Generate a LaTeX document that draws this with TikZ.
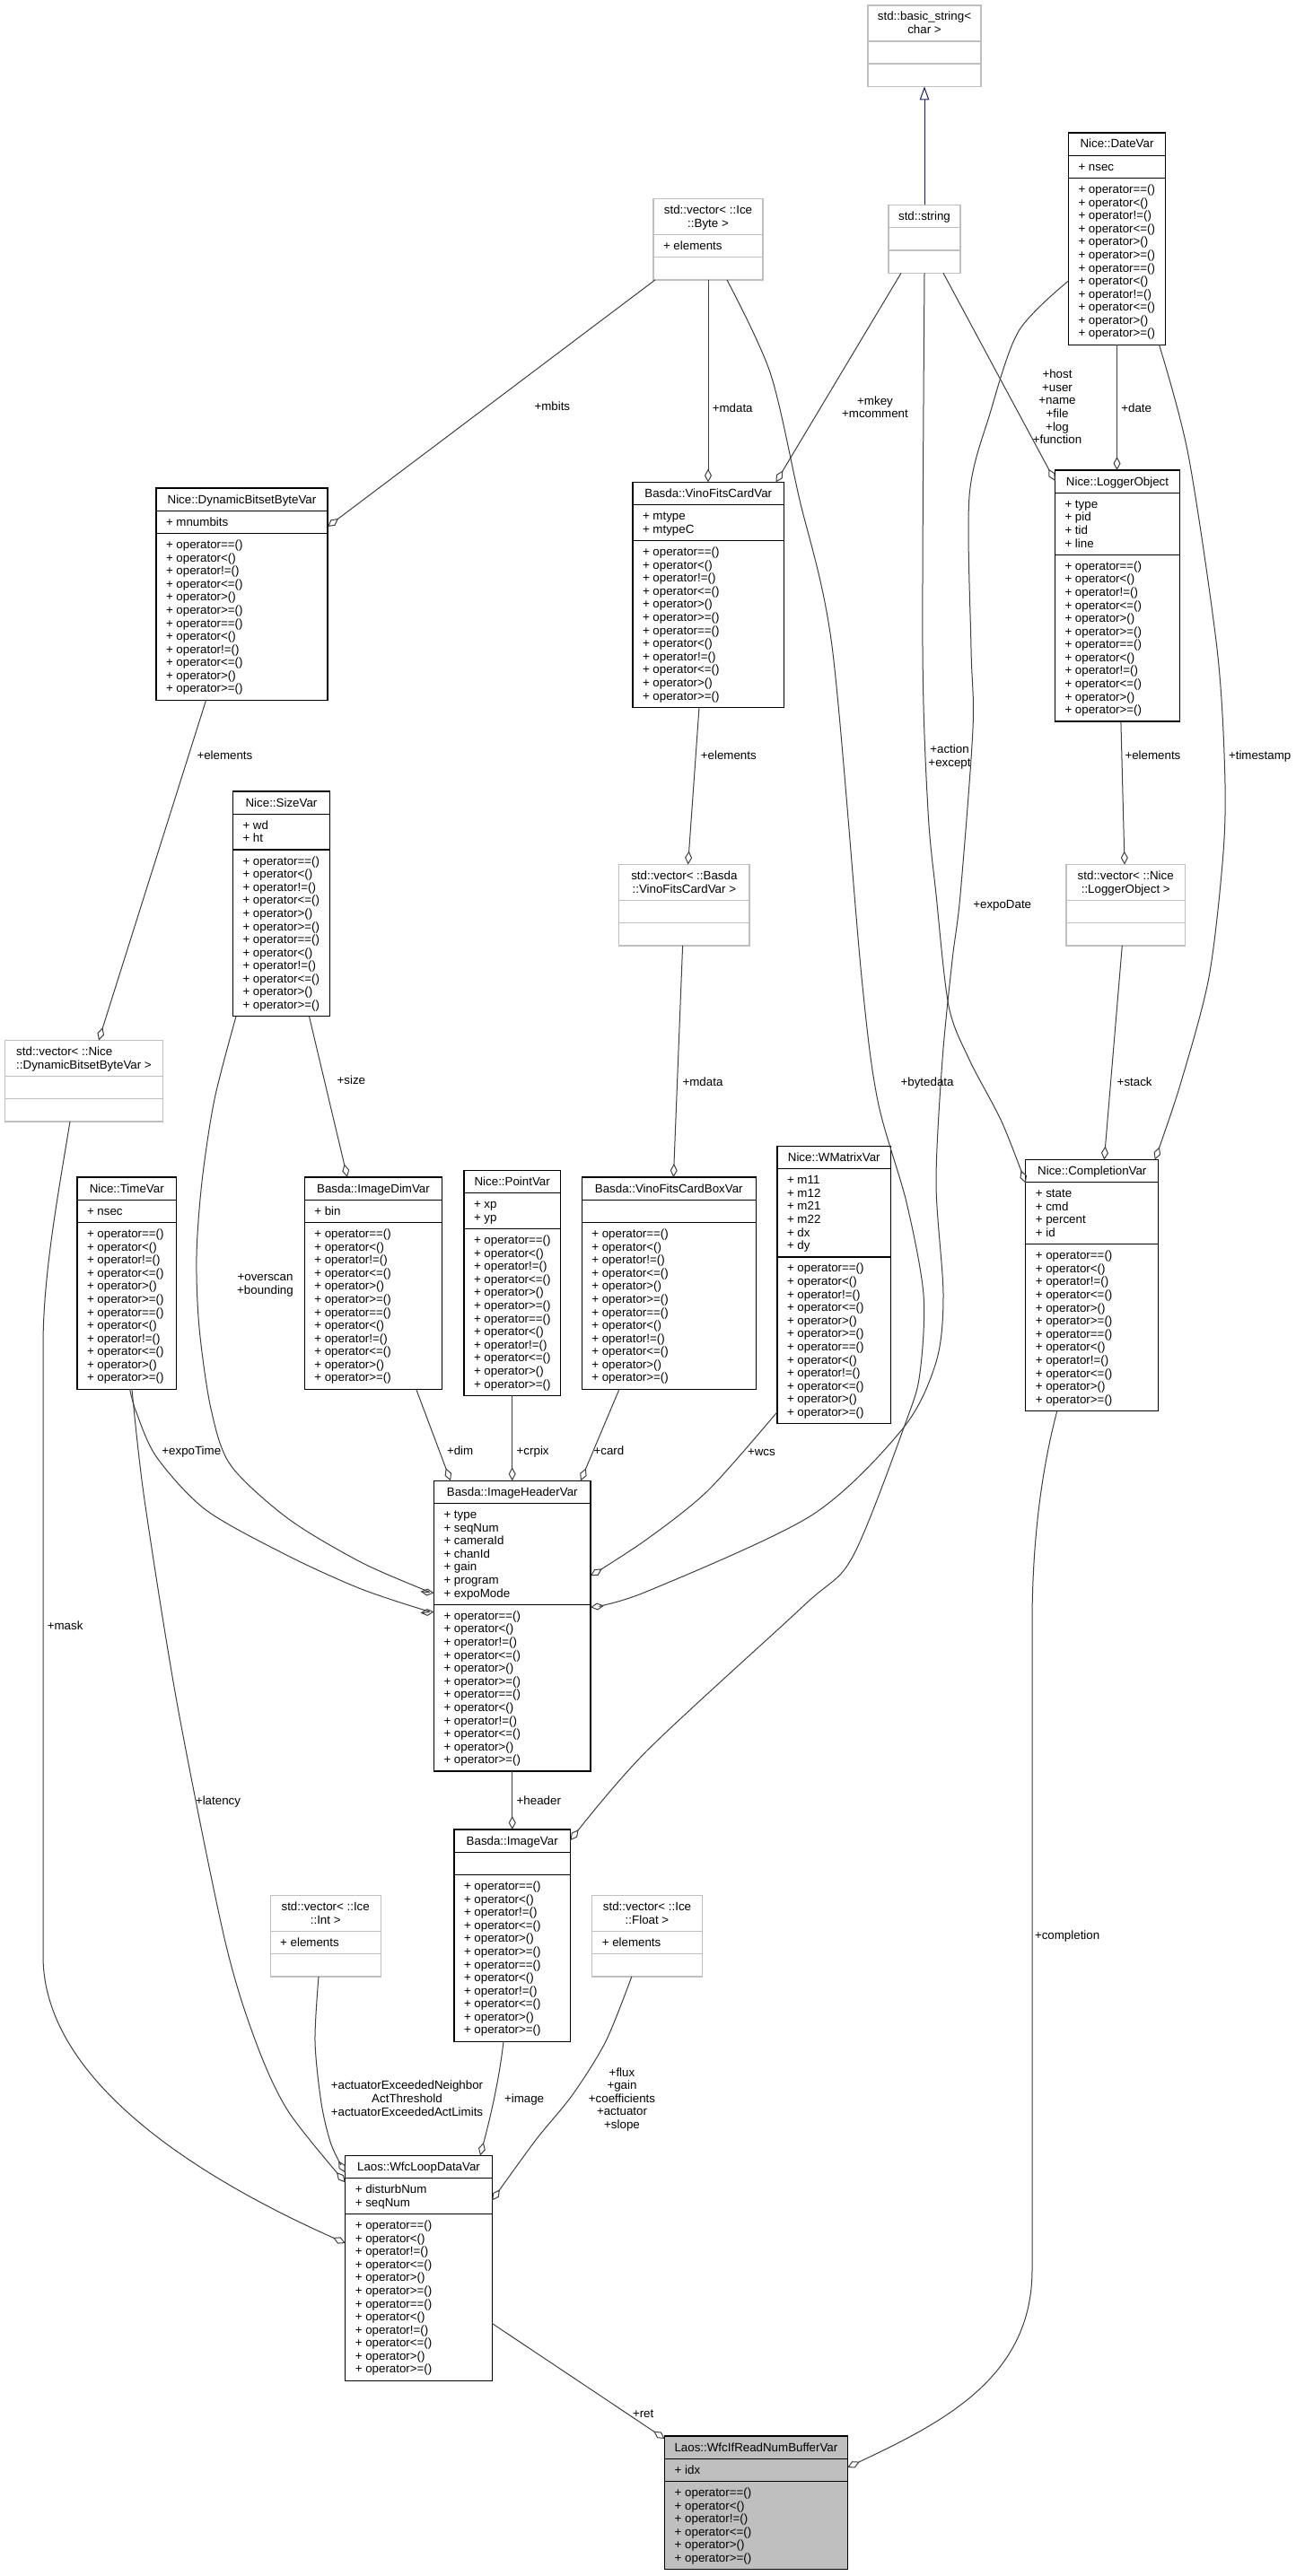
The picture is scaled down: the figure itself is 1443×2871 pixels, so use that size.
\documentclass[tikz,border=0pt]{standalone}
\usepackage{fontspec}
\setmainfont{Liberation Sans}
\usetikzlibrary{arrows.meta}
\definecolor{edgegray}{HTML}{404040}
\definecolor{boxgray}{HTML}{BFBFBF}
\definecolor{navyblue}{HTML}{191970}

\def\opsXII{+ operator==(),+ operator<(),+ operator!=(),+ operator<=(),+ operator>(),+ operator>=(),+ operator==(),+ operator<(),+ operator!=(),+ operator<=(),+ operator>(),+ operator>=()}
\def\opsVI{+ operator==(),+ operator<(),+ operator!=(),+ operator<=(),+ operator>(),+ operator>=()}

\protected\def\leftas#1#2{\setbox0=\hbox{#2}\makebox[\wd0][l]{#1}}
\protected\def\usc{\textunderscore}

\newcommand\countitems[2]{\gdef#2{0}\edef\tmplist{#1}\ifx\tmplist\empty\else\foreach \itm [count=\cnt] in \tmplist {\xdef#2{\cnt}}\fi}

\newcommand\umlclass[8]{%
  \countitems{#6}\nH\countitems{#7}\nA\countitems{#8}\nO
  \pgfmathsetmacro\hH{10.7+max(\nH,1)*14.58}%
  \pgfmathsetmacro\hA{10.7+max(\nA,1)*14.58}%
  \pgfmathsetmacro\hO{10.7+max(\nO,1)*14.58}%
  \pgfmathsetmacro\hT{\hH+\hA+\hO}%
  \pgfmathsetmacro\hB{\hH+\hA}%
  \node[#1, minimum width=#5pt, minimum height=\hT pt, anchor=north west] (#2) at (#3,#4) {};
  \draw[#1 sep] ([yshift=-\hH pt]#2.north west) -- ([yshift=-\hH pt]#2.north east);
  \draw[#1 sep] ([yshift=-\hB pt]#2.north west) -- ([yshift=-\hB pt]#2.north east);
  \edef\tmplist{#6}\ifx\tmplist\empty\else
  \foreach \itm [count=\cnt from 0] in \tmplist {\pgfmathsetmacro\yy{17+\cnt*14.58}\node[txt, anchor=base] at ([yshift=-\yy pt]#2.north) {\itm};}\fi
  \edef\tmplist{#7}\ifx\tmplist\empty\else
  \foreach \itm [count=\cnt from 0] in \tmplist {\pgfmathsetmacro\yy{\hH+17+\cnt*14.58}\node[txt, anchor=base west] at ([xshift=11pt,yshift=-\yy pt]#2.north west) {\itm};}\fi
  \edef\tmplist{#8}\ifx\tmplist\empty\else
  \foreach \itm [count=\cnt from 0] in \tmplist {\pgfmathsetmacro\yy{\hB+17+\cnt*14.58}\node[txt, anchor=base west] at ([xshift=11pt,yshift=-\yy pt]#2.north west) {\itm};}\fi
}

\newcommand\stacklabel[4]{%
  \foreach \itm [count=\cnt from 0] in {#4} {\pgfmathsetmacro\yy{#3+\cnt*14.58}\node[txt, anchor=base] (#1\cnt) at (#2,\yy) {\itm};}}

\begin{document}
\begin{tikzpicture}[x=1pt,y=-1pt,
  txt/.style={inner sep=0pt, outer sep=0pt, font=\fontsize{13.33}{14.58}\selectfont, text=black},
  cbox/.style={rectangle, draw=black, line width=1.3pt, inner sep=0pt, outer sep=0pt},
  cbox sep/.style={draw=black, line width=1.3pt},
  xbox/.style={rectangle, draw=boxgray, line width=1.3pt, inner sep=0pt, outer sep=0pt},
  xbox sep/.style={draw=boxgray, line width=1.3pt},
  hlbox/.style={rectangle, draw=black, fill=boxgray, line width=1.3pt, inner sep=0pt, outer sep=0pt},
  hlbox sep/.style={draw=black, line width=1.3pt},
  agg/.style={draw=edgegray, line width=1pt, -{Diamond[open, length=15pt, width=8pt]}},
  inherit/.style={draw=navyblue, line width=1pt, -{Triangle[open, length=15pt, width=10.5pt]}},
  lbl/.style={txt}
]
\path[use as bounding box, fill=white] (0,0) rectangle (1443,2871);

% ---------------- classes ----------------
\umlclass{xbox}{basicstr}{967}{6}{126}{std::basic\usc string<,char >}{}{}
\umlclass{xbox}{stdstr}{990}{228.5}{80}{std::string}{}{}
\umlclass{xbox}{vecbyte}{728}{221.5}{122}{std::vector< ::Ice,::Byte >}{+ elements}{}
\umlclass{cbox}{datevar}{1190.5}{148}{108}{Nice::DateVar}{+ nsec}{\opsXII}
\umlclass{cbox}{dbbv}{174}{544}{191}{Nice::DynamicBitsetByteVar}{+ mnumbits}{\opsXII}
\umlclass{cbox}{vfcv}{705}{537.5}{168.5}{Basda::VinoFitsCardVar}{+ mtype,+ mtypeC}{\opsXII}
\umlclass{cbox}{logger}{1175.5}{524}{139}{Nice::LoggerObject}{+ type,+ pid,+ tid,+ line}{\opsXII}
\umlclass{xbox}{vecdbbv}{5.5}{1159.5}{176}{\leftas{std::vector< ::Nice}{::DynamicBitsetByteVar >},::DynamicBitsetByteVar >}{}{}
\umlclass{cbox}{sizevar}{259.5}{882}{108}{Nice::SizeVar}{+ wd,+ ht}{\opsXII}
\umlclass{xbox}{vecvfcv}{689.6}{963.5}{145.5}{std::vector< ::Basda,::VinoFitsCardVar >}{}{}
\umlclass{xbox}{veclog}{1188}{963.5}{132.5}{std::vector< ::Nice,::LoggerObject >}{}{}
\umlclass{cbox}{timevar}{86}{1312}{110.5}{Nice::TimeVar}{+ nsec}{\opsXII}
\umlclass{cbox}{imgdim}{339.3}{1312}{153.4}{Basda::ImageDimVar}{+ bin}{\opsXII}
\umlclass{cbox}{pointvar}{517}{1304.5}{107.4}{Nice::PointVar}{+ xp,+ yp}{\opsXII}
\umlclass{cbox}{vfcbv}{648.3}{1312}{193.9}{Basda::VinoFitsCardBoxVar}{}{\opsXII}
\umlclass{cbox}{wmatrix}{866}{1277.5}{126.5}{Nice::WMatrixVar}{+ m11,+ m12,+ m21,+ m22,+ dx,+ dy}{\opsXII}
\umlclass{cbox}{completion}{1142.8}{1292.5}{148}{Nice::CompletionVar}{+ state,+ cmd,+ percent,+ id}{\opsXII}
\umlclass{cbox}{ihv}{483.5}{1650.3}{174.5}{Basda::ImageHeaderVar}{+ type,+ seqNum,+ cameraId,+ chanId,+ gain,+ program,+ expoMode}{\opsXII}
\umlclass{cbox}{imagevar}{506}{2039}{129.4}{Basda::ImageVar}{}{\opsXII}
\umlclass{xbox}{vecint}{301.2}{2112.6}{123}{std::vector< ::Ice,::Int >}{+ elements}{}
\umlclass{xbox}{vecfloat}{659.8}{2112.6}{122.4}{std::vector< ::Ice,::Float >}{+ elements}{}
\umlclass{cbox}{wldv}{384.8}{2402.4}{163.4}{Laos::WfcLoopDataVar}{+ disturbNum,+ seqNum}{\opsXII}
\umlclass{hlbox}{wirnbv}{740.7}{2715}{203.5}{Laos::WfcIfReadNumBufferVar}{+ idx}{\opsVI}

% ---------------- connectors ----------------
\draw[inherit] (stdstr.north) -- (basicstr.south);
\draw[agg] (vecbyte.south) -- (vecbyte.south |- vfcv.north);
\draw[agg] ([shift={(2,0)}]vecbyte.south west) -- ([shift={(0,43)}]dbbv.north east);
\draw[agg] ([shift={(14,0)}]stdstr.south west) -- ([shift={(-9,0)}]vfcv.north east);
\draw[agg] plot[smooth] coordinates {(stdstr.south) (1028,723) (1034,904) (1043,997) (1057,1121) (1080,1181) (1116,1250) ([shift={(0,26)}]completion.north west)};
\draw[agg] ([shift={(61,0)}]stdstr.south west) -- ([shift={(0,12)}]logger.north west);
\draw[agg] (datevar.south) -- (datevar.south |- logger.north);
\draw[agg] plot[smooth] coordinates {([shift={(-7,0)}]datevar.south east) (1324,507) (1356,723) (1364.6,858) (1363,950) (1347,1089) (1315,1209) ([shift={(-4,0)}]completion.north east)};
\draw[agg] plot[smooth] coordinates {([shift={(0,165)}]datevar.north west) (1135,369) (1103,461) (1080,553) (1082,723) (1084,812) (1070,997) (1061,1070) (1050,1181) (1043,1319) (1051,1443) (1043,1518) (1006,1592) (904,1689) (720,1774) ([shift={(0,141)}]ihv.north east)};
\draw[agg] plot[smooth] coordinates {([shift={(82,0)}]vecbyte.south west) (858,415) (890,553) (927,720) (960,1089) (978,1227) (1010,1340) (1029,1443) (1025,1530) (1010,1583) (950,1735) (895,1790) (720,1952) ([shift={(0,12)}]imagevar.north east)};
\draw[agg] plot[smooth] coordinates {([shift={(0,-13)}]wmatrix.south west) (789,1661) (720,1716) ([shift={(0,106)}]ihv.north east)};
\draw[agg] ([shift={(124.4,0)}]imgdim.south west) -- ([shift={(18.5,0)}]ihv.north west);
\draw[agg] (pointvar.south) -- (pointvar.south |- ihv.north);
\draw[agg] ([shift={(41.7,0)}]vfcbv.south west) -- ([shift={(-11,0)}]ihv.north east);
\draw[agg] plot[smooth] coordinates {([shift={(58.6,0)}]timevar.south west) (151.5,1573) (174.5,1624) (229.6,1683) (321,1734) (400,1770) (468,1793) ([shift={(0,146)}]ihv.north west)};
\draw[agg] plot[smooth] coordinates {([shift={(3.5,0)}]sizevar.south west) (239,1225) (225,1317) (219,1400) (222,1480) (235,1570) (257,1633) (321,1692.5) (400,1740) (468,1770) ([shift={(0,125)}]ihv.north west)};
\draw[agg] ([shift={(85,0)}]sizevar.south west) -- ([shift={(47.7,0)}]imgdim.north west);
\draw[agg] ([shift={(55.6,0)}]dbbv.south west) -- ([shift={(104.5,0)}]vecdbbv.north west);
\draw[agg] ([shift={(72.5,0)}]vecdbbv.south west) .. controls (65,1330) and (48,1420) .. (48,1500) -- (48,2180) .. controls (48,2330) and (250,2440) .. ([shift={(0,97.6)}]wldv.north west);
\draw[agg] plot[smooth] coordinates {([shift={(61,0)}]timevar.south west) (160.7,1669.6) (197.4,1899) (250,2160) (284.7,2274.8) (321,2352.8) ([shift={(0,30)}]wldv.north west)};
\draw[agg] (ihv.south) -- (ihv.south |- imagevar.north);
\draw[agg] plot[smooth] coordinates {([shift={(53.8,0)}]vecint.south west) (351,2275) (358,2344) (369,2390) ([shift={(0,19)}]wldv.north west)};
\draw[agg] ([shift={(55,0)}]imagevar.south west) .. controls (556,2320) and (545,2365) .. ([shift={(150.2,0)}]wldv.north west);
\draw[agg] plot[smooth] coordinates {([shift={(44,0)}]vecfloat.south west) (675,2275) (638,2334.5) (597,2385) ([shift={(0,50)}]wldv.north east)};
\draw[agg] ([shift={(0,187)}]wldv.north east) -- ([shift={(0,3)}]wirnbv.north west);
\draw[agg] ([shift={(35,0)}]completion.south west) .. controls (1160,1640) and (1150,1720) .. (1150,1810) -- (1150,2530) .. controls (1150,2650) and (1050,2700) .. ([shift={(0,35)}]wirnbv.north east);
\draw[agg] ([shift={(74,0)}]vfcv.south west) -- ([shift={(77,0)}]vecvfcv.north west);
\draw[agg] ([shift={(71,0)}]vecvfcv.south west) -- ([shift={(102.1,0)}]vfcbv.north west);
\draw[agg] ([shift={(73.4,0)}]logger.south west) -- ([shift={(65,0)}]veclog.north west);
\draw[agg] ([shift={(62.3,0)}]veclog.south west) -- ([shift={(87.5,0)}]completion.north west);

% ---------------- labels ----------------
\node[lbl, anchor=base west] (lmbits) at (595.5,457.5) {+mbits};
\node[lbl, anchor=base west] (lmdata1) at (793.8,459) {+mdata};
\stacklabel{lmkey}{975}{451.3}{+mkey,+mcomment}
\stacklabel{lhost}{1178}{421.8}{+host,+user,+name,+file,+log,+function}
\node[lbl, anchor=base west] (ldate) at (1249.3,459) {+date};
\node[lbl, anchor=base west] (lel1) at (219.5,846.2) {+elements};
\node[lbl, anchor=base west] (lel2) at (780.9,846.7) {+elements};
\stacklabel{laction}{1058}{839.8}{+action,+except}
\node[lbl, anchor=base west] (lel3) at (1253.5,846.7) {+elements};
\node[lbl, anchor=base west] (ltimestamp) at (1369,846.7) {+timestamp};
\node[lbl, anchor=base west] (lexpodate) at (1084.3,1012.7) {+expoDate};
\node[lbl, anchor=base west] (lsize) at (375.6,1208.5) {+size};
\node[lbl, anchor=base west] (lmdata2) at (760.6,1210.5) {+mdata};
\node[lbl, anchor=base west] (lbytedata) at (1003.6,1210) {+bytedata};
\node[lbl, anchor=base west] (lstack) at (1244.7,1210.5) {+stack};
\stacklabel{loverscan}{295.5}{1427.5}{+overscan,+bounding}
\node[lbl, anchor=base west] (lexpotime) at (180.4,1621.3) {+expoTime};
\node[lbl, anchor=base west] (ldim) at (498,1621.3) {+dim};
\node[lbl, anchor=base west] (lcrpix) at (575.7,1621.3) {+crpix};
\node[lbl, anchor=base west] (lcard) at (661.6,1621.3) {+card};
\node[lbl, anchor=base west] (lwcs) at (833,1622) {+wcs};
\node[lbl, anchor=base west] (lmask) at (52.8,1816.4) {+mask};
\node[lbl, anchor=base west] (llatency) at (218,2011) {+latency};
\node[lbl, anchor=base west] (lheader) at (575.7,2011) {+header};
\node[lbl, anchor=base west] (lcompletion) at (1153,2161.5) {+completion};
\stacklabel{lact}{453.5}{2328.9}{+actuatorExceededNeighbor,ActThreshold,+actuatorExceededActLimits}
\node[lbl, anchor=base west] (limage) at (562,2343.5) {+image};
\stacklabel{lflux}{693}{2314.2}{+flux,+gain,+coefficients,+actuator,+slope}
\node[lbl, anchor=base west] (lret) at (705,2694) {+ret};
\end{tikzpicture}
\end{document}
